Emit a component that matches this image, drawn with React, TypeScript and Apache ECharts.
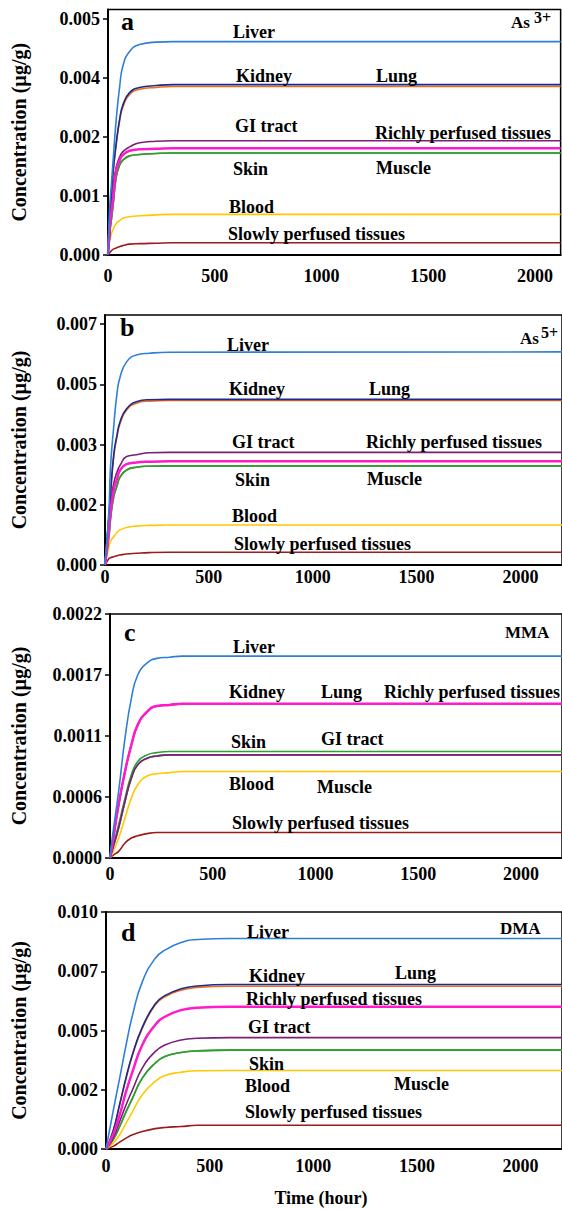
import React, { useEffect, useRef } from "react";
import * as echarts from "echarts";

// ---------- DATA ----------
const TIME_A = [0, 8, 16, 23, 39, 55, 70, 101, 148, 226, 304, 2120];
const LIVER_A = [0, 0.00102, 0.0015, 0.00194, 0.0029, 0.00358, 0.00401, 0.00431, 0.00446, 0.00451, 0.00452, 0.00452];
const KIDNEY_A = [0, 0.0004, 0.00125, 0.0017, 0.00235, 0.00285, 0.00314, 0.0034, 0.00351, 0.00355, 0.00357, 0.00357];
const LUNG_A = [0, 0.0004, 0.00127, 0.00173, 0.00239, 0.00289, 0.00318, 0.00344, 0.00355, 0.00359, 0.00361, 0.00361];
const GI_A = [0, 0.00081, 0.00115, 0.00145, 0.00187, 0.00208, 0.00219, 0.00229, 0.00238, 0.00241, 0.00242, 0.00242];
const RICH_A = [0, 0.0006, 0.0009, 0.00117, 0.0018, 0.00201, 0.00212, 0.00221, 0.00224, 0.00225, 0.00226, 0.00226];
const SKIN_A = [0, 0.00046, 0.00075, 0.00102, 0.00166, 0.00191, 0.00201, 0.0021, 0.00213, 0.00215, 0.00216, 0.00216];
const MUSCLE_A = [0, 0.00046, 0.00075, 0.00102, 0.00166, 0.00191, 0.00201, 0.0021, 0.00213, 0.00215, 0.00216, 0.00216];
const BLOOD_A = [0, 0.00032, 0.00045, 0.00053, 0.00067, 0.00073, 0.00078, 0.00081, 0.00083, 0.00085, 0.00086, 0.00086];
const SLOW_A = [0, 0.00005, 0.00009, 0.00012, 0.00015, 0.00018, 0.0002, 0.00023, 0.00024, 0.00025, 0.00026, 0.00026];

const TIME_B = [0, 19, 26, 42, 58, 73, 104, 151, 213, 307, 2200];
const LIVER_B = [0, 0.0016, 0.0028, 0.00402, 0.00499, 0.00547, 0.0059, 0.0061, 0.00615, 0.00618, 0.00619];
const KIDNEY_B = [0, 0.0014, 0.00198, 0.00315, 0.00373, 0.00412, 0.0045, 0.0047, 0.00476, 0.00478, 0.00478];
const LUNG_B = [0, 0.0014, 0.00202, 0.0032, 0.00378, 0.00417, 0.00454, 0.00474, 0.0048, 0.00481, 0.00481];
const GI_B = [0, 0.0014, 0.0018, 0.00237, 0.0027, 0.0029, 0.00315, 0.0032, 0.00326, 0.00327, 0.00327];
const RICH_B = [0, 0.00102, 0.0015, 0.00218, 0.0025, 0.00276, 0.00293, 0.00298, 0.003, 0.00301, 0.00301];
const SKIN_B = [0, 0.00082, 0.0013, 0.00198, 0.0023, 0.00256, 0.00276, 0.00284, 0.00287, 0.00288, 0.00288];
const MUSCLE_B = [0, 0.00082, 0.0013, 0.00198, 0.0023, 0.00256, 0.00276, 0.00284, 0.00287, 0.00288, 0.00288];
const BLOOD_B = [0, 0.00053, 0.00068, 0.00082, 0.00095, 0.00102, 0.00109, 0.00113, 0.00115, 0.00116, 0.00116];
const SLOW_B = [0, 0.00019, 0.00021, 0.00024, 0.00027, 0.00029, 0.00032, 0.00034, 0.00036, 0.00037, 0.00037];

const TIME_C = [0, 11, 42, 73, 104, 135, 181, 228, 290, 352, 2200];
const LIVER_C = [0, 0.00018, 0.0006, 0.00108, 0.00144, 0.00165, 0.00176, 0.0018, 0.00181, 0.00182, 0.00182];
const KIDNEY_C = [0, 0.00012, 0.00048, 0.00078, 0.00102, 0.0012, 0.00132, 0.00137, 0.00138, 0.00139, 0.00139];
const LUNG_C = [0, 0.00012, 0.00048, 0.00078, 0.00102, 0.0012, 0.00132, 0.00137, 0.00138, 0.00139, 0.00139];
const GI_C = [0, 0.00007, 0.00027, 0.00051, 0.00072, 0.00084, 0.0009, 0.00092, 0.00093, 0.00093, 0.00093];
const RICH_C = [0, 0.00012, 0.00048, 0.00078, 0.00102, 0.0012, 0.00132, 0.00137, 0.00138, 0.00139, 0.00139];
const SKIN_C = [0, 0.00008, 0.0003, 0.00054, 0.00075, 0.00087, 0.00093, 0.00095, 0.00096, 0.00096, 0.00096];
const MUSCLE_C = [0, 0.00007, 0.00027, 0.00051, 0.00072, 0.00084, 0.0009, 0.00092, 0.00093, 0.00093, 0.00093];
const BLOOD_C = [0, 0.00004, 0.00018, 0.00036, 0.00054, 0.00066, 0.00074, 0.00076, 0.00077, 0.00078, 0.00078];
const SLOW_C = [0, 0.00002, 0.00006, 0.000135, 0.00018, 0.0002, 0.00022, 0.00023, 0.00023, 0.00023, 0.00023];

const TIME_D = [0, 34, 66, 97, 128, 175, 237, 284, 362, 440, 596, 2200];
const LIVER_D = [0, 0.00158, 0.00299, 0.00439, 0.00565, 0.00705, 0.00804, 0.00839, 0.00871, 0.00884, 0.00888, 0.00888];
const KIDNEY_D = [0, 0.00074, 0.00187, 0.00299, 0.00397, 0.00509, 0.00607, 0.00642, 0.0067, 0.00682, 0.00687, 0.00687];
const LUNG_D = [0, 0.00075, 0.00189, 0.00302, 0.004, 0.00513, 0.00612, 0.00647, 0.00676, 0.00688, 0.00694, 0.00694];
const GI_D = [0, 0.00046, 0.00116, 0.00187, 0.0025, 0.00341, 0.00411, 0.00439, 0.0046, 0.00467, 0.0047, 0.0047];
const RICH_D = [0, 0.0006, 0.00144, 0.00243, 0.00327, 0.00439, 0.00523, 0.00558, 0.00586, 0.00596, 0.006, 0.006];
const SKIN_D = [0, 0.00039, 0.00095, 0.00158, 0.00215, 0.00299, 0.00362, 0.0039, 0.00407, 0.00414, 0.00417, 0.00417];
const MUSCLE_D = [0, 0.00039, 0.00095, 0.00158, 0.00215, 0.00299, 0.00362, 0.0039, 0.00407, 0.00414, 0.00417, 0.00417];
const BLOOD_D = [0, 0.00025, 0.0006, 0.00109, 0.00158, 0.00229, 0.00285, 0.0031, 0.00324, 0.0033, 0.00331, 0.00331];
const SLOW_D = [0, 0.00011, 0.00029, 0.00046, 0.0006, 0.00074, 0.00086, 0.00091, 0.00095, 0.001, 0.001, 0.001];

// y tick values and their printed labels
const YTICKS_A = [0, 0.00125, 0.0025, 0.00375, 0.005];
const YLABELS_A = ["0.000", "0.001", "0.002", "0.004", "0.005"];
const YTICKS_B = [0, 0.00175, 0.0035, 0.00525, 0.007];
const YLABELS_B = ["0.000", "0.002", "0.003", "0.005", "0.007"];
const YTICKS_C = [0, 0.00055, 0.0011, 0.00165, 0.0022];
const YLABELS_C = ["0.0000", "0.0006", "0.0011", "0.0017", "0.0022"];
const YTICKS_D = [0, 0.0025, 0.005, 0.0075, 0.01];
const YLABELS_D = ["0.000", "0.002", "0.005", "0.007", "0.010"];

const X_TICKS = [0, 500, 1000, 1500, 2000];

const TISSUES = ["Slowly perfused tissues", "Blood", "Muscle", "Skin", "GI tract", "Kidney", "Lung", "Richly perfused tissues", "Liver"];
const COLORS: Record<string, string> = {
  Liver: "#2F7FD8",
  Lung: "#1C2A8C",
  Kidney: "#F26B1D",
  "GI tract": "#7A1E78",
  "Richly perfused tissues": "#FF1ACB",
  Skin: "#2E9E2E",
  Muscle: "#3FA03F",
  Blood: "#FFC800",
  "Slowly perfused tissues": "#9B1B1B",
};

// ---------- LAYOUT ----------
const FONT = "'Liberation Serif', 'Times New Roman', serif";
const PX_PER_HOUR = 0.2135;

const PANELS = [
  {
    time: TIME_A,
    values: { Liver: LIVER_A, Kidney: KIDNEY_A, Lung: LUNG_A, "GI tract": GI_A, "Richly perfused tissues": RICH_A, Skin: SKIN_A, Muscle: MUSCLE_A, Blood: BLOOD_A, "Slowly perfused tissues": SLOW_A } as Record<string, number[]>,
    yTicks: YTICKS_A, yLabels: YLABELS_A,
    left: 108, top: 9.5, bottom: 255, tickTopY: 19, xMax: 2120, xLabelMargin: 12,
    letter: "a", letterPos: [121, 21], species: "As", sup: "3+", speciesPos: [511, 31], supPos: [534, 17],
    labels: [
      ["Liver", 233, 32], ["Kidney", 236, 76], ["Lung", 376, 76], ["GI tract", 235, 126],
      ["Richly perfused tissues", 375, 133], ["Skin", 233, 169], ["Muscle", 376, 168],
      ["Blood", 229, 207], ["Slowly perfused tissues", 228, 234],
    ],
  },
  {
    time: TIME_B,
    values: { Liver: LIVER_B, Kidney: KIDNEY_B, Lung: LUNG_B, "GI tract": GI_B, "Richly perfused tissues": RICH_B, Skin: SKIN_B, Muscle: MUSCLE_B, Blood: BLOOD_B, "Slowly perfused tissues": SLOW_B } as Record<string, number[]>,
    yTicks: YTICKS_B, yLabels: YLABELS_B,
    left: 105, top: 315, bottom: 565, tickTopY: 324, xMax: 2200, xLabelMargin: 3,
    letter: "b", letterPos: [120, 327], species: "As", sup: "5+", speciesPos: [520, 347], supPos: [541, 332],
    labels: [
      ["Liver", 227, 345], ["Kidney", 229, 389], ["Lung", 369, 389], ["GI tract", 232, 442],
      ["Richly perfused tissues", 366, 442], ["Skin", 235, 480], ["Muscle", 367, 479],
      ["Blood", 232, 516], ["Slowly perfused tissues", 234, 544],
    ],
  },
  {
    time: TIME_C,
    values: { Liver: LIVER_C, Kidney: KIDNEY_C, Lung: LUNG_C, "GI tract": GI_C, "Richly perfused tissues": RICH_C, Skin: SKIN_C, Muscle: MUSCLE_C, Blood: BLOOD_C, "Slowly perfused tissues": SLOW_C } as Record<string, number[]>,
    yTicks: YTICKS_C, yLabels: YLABELS_C,
    left: 110, top: 614, bottom: 858, tickTopY: 614, xMax: 2200, xLabelMargin: 7,
    letter: "c", letterPos: [124, 632], species: "MMA", sup: "", speciesPos: [505, 641], supPos: [0, 0],
    labels: [
      ["Liver", 233, 647], ["Kidney", 229, 692], ["Lung", 321, 692], ["Richly perfused tissues", 384, 692],
      ["Skin", 231, 742], ["GI tract", 321, 739], ["Blood", 229, 784], ["Muscle", 317, 787],
      ["Slowly perfused tissues", 232, 823],
    ],
  },
  {
    time: TIME_D,
    values: { Liver: LIVER_D, Kidney: KIDNEY_D, Lung: LUNG_D, "GI tract": GI_D, "Richly perfused tissues": RICH_D, Skin: SKIN_D, Muscle: MUSCLE_D, Blood: BLOOD_D, "Slowly perfused tissues": SLOW_D } as Record<string, number[]>,
    yTicks: YTICKS_D, yLabels: YLABELS_D,
    left: 106, top: 912, bottom: 1149, tickTopY: 912, xMax: 2200, xLabelMargin: 8,
    letter: "d", letterPos: [121, 932], species: "DMA", sup: "", speciesPos: [500, 937], supPos: [0, 0],
    labels: [
      ["Liver", 247, 932], ["Kidney", 249, 976], ["Lung", 395, 973],
      ["Richly perfused tissues", 246, 999], ["GI tract", 248, 1027], ["Skin", 249, 1064],
      ["Blood", 245, 1086], ["Muscle", 394, 1084], ["Slowly perfused tissues", 245, 1112],
    ],
  },
];

export default function App() {
  const ref = useRef<HTMLDivElement>(null);

  useEffect(() => {
    if (!ref.current) return;
    const chart = echarts.init(ref.current, undefined, { renderer: "svg" });

    const grids: any[] = [];
    const xAxes: any[] = [];
    const yAxes: any[] = [];
    const series: any[] = [];
    const graphics: any[] = [];

    PANELS.forEach((p, i) => {
      const height = p.bottom - p.top;
      const pxPerUnit = (p.bottom - p.tickTopY) / p.yTicks[p.yTicks.length - 1];
      const yMax = height / pxPerUnit;
      grids.push({
        left: p.left,
        top: p.top,
        width: p.xMax * PX_PER_HOUR,
        height,
        show: true,
        borderColor: "#000",
        borderWidth: 1.5,
        backgroundColor: "transparent",
        containLabel: false,
      });
      xAxes.push({
        gridIndex: i,
        type: "value",
        min: 0,
        max: p.xMax,
        axisLine: { show: true, onZero: false, lineStyle: { color: "#000", width: 2 } },
        axisTick: { show: false },
        splitLine: { show: false },
        axisLabel: {
          customValues: X_TICKS,
          margin: p.xLabelMargin,
          fontFamily: FONT,
          fontWeight: "bold",
          fontSize: 18,
          color: "#000",
          formatter: (v: number) => String(v),
        },
      });
      const ticks = p.yTicks;
      const labels = p.yLabels;
      yAxes.push({
        gridIndex: i,
        type: "value",
        min: 0,
        max: yMax,
        axisLine: { show: true, onZero: false, lineStyle: { color: "#000", width: 2 } },
        axisTick: { show: true, inside: false, length: 5, customValues: ticks, lineStyle: { color: "#000", width: 1.5 } },
        splitLine: { show: false },
        axisLabel: {
          customValues: ticks,
          margin: 8,
          fontFamily: FONT,
          fontWeight: "bold",
          fontSize: 18,
          color: "#000",
          formatter: (v: number) => {
            for (let k = 0; k < ticks.length; k++) if (Math.abs(v - ticks[k]) < 1e-9) return labels[k];
            return "";
          },
        },
      });
      TISSUES.forEach((name) => {
        const vals = p.values[name];
        series.push({
          type: "line",
          name,
          xAxisIndex: i,
          yAxisIndex: i,
          data: p.time.map((t, k) => [t, vals[k]]),
          showSymbol: false,
          smooth: 0.5,
          lineStyle: { color: COLORS[name], width: name === "Richly perfused tissues" ? 2.5 : 1.6 },
          itemStyle: { color: COLORS[name] },
          silent: true,
          z: 3,
        });
      });

      graphics.push({
        type: "text",
        x: 19,
        y: (p.top + p.bottom) / 2,
        rotation: Math.PI / 2,
        style: {
          text: "Concentration (µg/g)",
          font: `bold 20px ${FONT}`,
          fill: "#000",
          textAlign: "center",
          textVerticalAlign: "middle",
        },
      });
      graphics.push({
        type: "text",
        x: p.letterPos[0],
        y: p.letterPos[1],
        style: { text: p.letter, font: `bold 26px ${FONT}`, fill: "#000", textAlign: "left", textVerticalAlign: "middle" },
      });
      graphics.push({
        type: "text",
        x: p.speciesPos[0],
        y: p.speciesPos[1],
        style: { text: p.species, font: `bold 17px ${FONT}`, fill: "#000", textAlign: "left", textVerticalAlign: "bottom" },
      });
      if (p.sup) {
        graphics.push({
          type: "text",
          x: p.supPos[0],
          y: p.supPos[1],
          style: { text: p.sup, font: `bold 16px ${FONT}`, fill: "#000", textAlign: "left", textVerticalAlign: "middle" },
        });
      }
      p.labels.forEach((l: any) => {
        graphics.push({
          type: "text",
          x: l[1],
          y: l[2],
          style: { text: l[0], font: `bold 18px ${FONT}`, fill: "#000", textAlign: "left", textVerticalAlign: "middle" },
          z: 10,
        });
      });
    });

    graphics.push({
      type: "text",
      x: 321,
      y: 1198,
      style: { text: "Time (hour)", font: `bold 18px ${FONT}`, fill: "#000", textAlign: "center", textVerticalAlign: "middle" },
    });

    chart.setOption({
      animation: false,
      backgroundColor: "#fff",
      grid: grids,
      xAxis: xAxes,
      yAxis: yAxes,
      series,
      graphic: graphics,
    });

    return () => chart.dispose();
  }, []);

  return (
    <div
      ref={ref}
      style={{ position: "fixed", left: 0, top: 0, width: 562, height: 1209, background: "#fff" }}
    />
  );
}
